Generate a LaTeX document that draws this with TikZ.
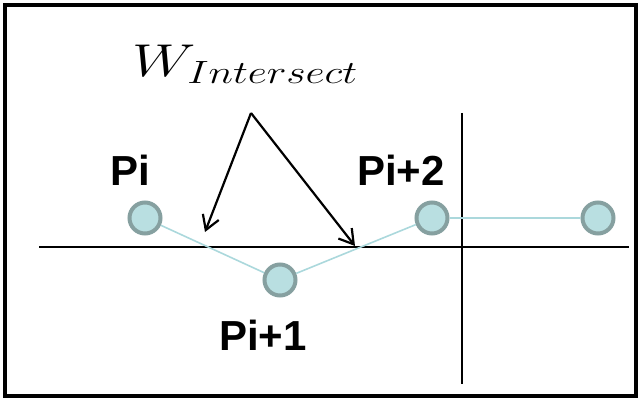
\documentclass[tikz,border=0pt]{standalone}
\usepackage{fix-cm}
\usepackage{fontspec}
\setmainfont{Liberation Sans}
\usetikzlibrary{arrows.meta}

\definecolor{ptfill}{HTML}{B9DFE1}
\definecolor{ptrim}{HTML}{86A0A0}
\definecolor{ptlink}{HTML}{ABD8DC}

\begin{document}
\begin{tikzpicture}[x=1pt, y=-1pt,
    pt/.style={circle, draw=ptrim, fill=ptfill, line width=4pt, minimum size=31pt, inner sep=0pt},
    ptlabel/.style={font=\bfseries\fontsize{42}{44}\selectfont},
    link/.style={ptlink, line width=1.6pt},
    pointer/.style={line width=2.2pt, -{Straight Barb[length=14pt, width=17pt, line width=2.2pt]}}]
    \useasboundingbox (0,0) rectangle (639,398);

    % Frame
    \draw[line width=4pt] (5,5) rectangle (636,396);

    % Axes
    \coordinate (H1) at (39,247);
    \coordinate (H2) at (629,247);
    \coordinate (V1) at (462,113);
    \coordinate (V2) at (462,384);
    \draw[line width=1.6pt] (H1) -- (H2);
    \draw[line width=1.6pt] (V1) -- (V2);

    % Define the points
    \node[pt] (p0) at (145,218) {};
    \node[pt] (p1) at (280,280) {};
    \node[pt] (p2) at (432,218) {};
    \node[pt] (p3) at (598,218) {};

    % Link the points
    \draw[link] (p0) -- (p1) -- (p2) -- (p3);

    % Labels of the points
    \node[ptlabel] (l0) at (130,170) {Pi};
    \node[ptlabel] (l1) at (263,335) {Pi+1};
    \node[ptlabel] (l2) at (401,170) {Pi+2};

    % Intersection label and its arrows
    \node[font=\fontsize{46}{48}\selectfont] (w) at (245,64) {\scalebox{1.3}[1]{$W_{Intersect}$}};
    \coordinate (apex) at (251,113);
    \coordinate (cut0) at (205,232);
    \coordinate (cut1) at (355,246);
    \draw[pointer] (apex) -- (cut0);
    \draw[pointer] (apex) -- (cut1);
\end{tikzpicture}
\end{document}
